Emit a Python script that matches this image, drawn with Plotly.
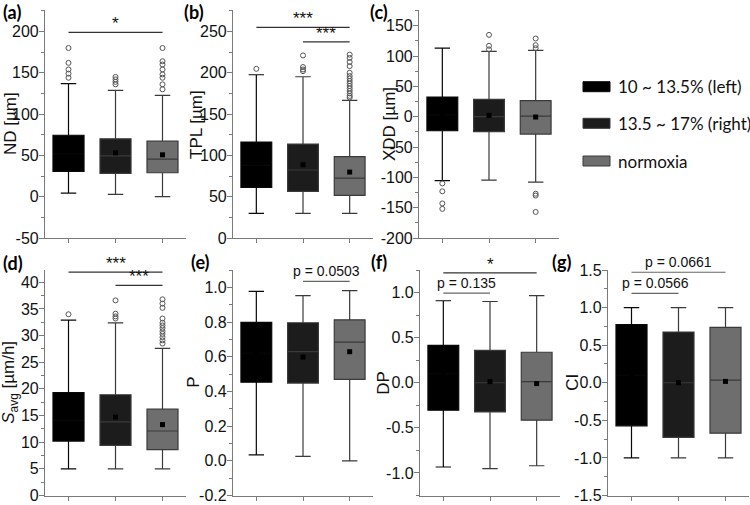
import plotly.graph_objects as go

W, H = 750, 505

groups = ["10 ~ 13.5% (left)", "13.5 ~ 17% (right)", "normoxia"]
positions = [1, 2, 3]

# (a) ND [µm]
ND_lower = [4.4, 2.8, 0.0]
ND_q1 = [30.6, 28.2, 29.0]
ND_median = [52.0, 49.5, 45.5]
ND_q3 = [74.4, 70.0, 67.2]
ND_upper = [136.8, 128.8, 122.7]
ND_mean = [56.0, 53.1, 50.7]
ND_out = [[180, 162, 154, 149, 144],
          [145, 142, 139, 136],
          [180, 164, 160, 154, 148, 144, 136, 130]]

# (b) TPL [µm]
TPL_lower = [29.8, 29.8, 29.8]
TPL_q1 = [61.3, 56.5, 51.6]
TPL_median = [88.0, 82.3, 72.6]
TPL_q3 = [116.1, 113.7, 98.4]
TPL_upper = [197.6, 195.2, 166.5]
TPL_mean = [92.0, 88.7, 79.8]
TPL_out = [[204.8],
           [221, 207, 204, 202],
           [222, 218, 213, 208, 200, 196, 193, 190, 187, 184, 181, 178, 175, 172, 170]]

# (c) XDD [µm]
XDD_lower = [-105.5, -104.4, -107.7]
XDD_q1 = [-23.1, -24.7, -28.6]
XDD_median = [3.0, 0.0, 1.1]
XDD_q3 = [32.4, 28.6, 26.4]
XDD_upper = [113.2, 107.7, 109.3]
XDD_mean = [3.0, 2.2, -0.5]
XDD_out = [[-110, -123, -143, -152],
           [135, 117, 111],
           [129, 118, 113, -127, -130, -157]]

# (d) S_avg [µm/h]
SAVG_lower = [5.0, 5.0, 5.0]
SAVG_q1 = [10.2, 9.4, 8.6]
SAVG_median = [14.1, 13.8, 12.1]
SAVG_q3 = [19.3, 18.9, 16.2]
SAVG_upper = [32.9, 32.4, 27.6]
SAVG_mean = [15.3, 14.7, 13.3]
SAVG_out = [[34.0],
            [36.6, 34.1, 33.6, 33.2],
            [36.8, 36.0, 35.2, 33.2, 32.4, 31.9, 31.4, 30.8, 30.3, 29.7, 29.1, 28.5]]

# (e) P
P_lower = [0.034, 0.025, 0.0]
P_q1 = [0.453, 0.448, 0.469]
P_median = [0.62, 0.629, 0.684]
P_q3 = [0.798, 0.796, 0.813]
P_upper = [0.977, 0.952, 0.981]
P_mean = [0.611, 0.598, 0.629]
P_out = [[], [], []]

# (f) DP
DP_lower = [-0.934, -0.952, -0.92]
DP_q1 = [-0.305, -0.324, -0.415]
DP_median = [0.10, 0.0, 0.013]
DP_q3 = [0.415, 0.36, 0.338]
DP_upper = [0.909, 0.901, 0.967]
DP_mean = [0.08, 0.013, -0.009]
DP_out = [[], [], []]

# (g) CI
CI_lower = [-1.0, -1.0, -1.0]
CI_q1 = [-0.573, -0.728, -0.671]
CI_median = [0.10, 0.0, 0.035]
CI_q3 = [0.772, 0.675, 0.737]
CI_upper = [1.0, 1.0, 1.0]
CI_mean = [0.12, 0.0, 0.018]
CI_out = [[], [], []]

# y-axis tick labels
ND_ticks = [-50, 0, 50, 100, 150, 200]
TPL_ticks = [0, 50, 100, 150, 200, 250]
XDD_ticks = [-200, -150, -100, -50, 0, 50, 100, 150]
SAVG_ticks = [0, 5, 10, 15, 20, 25, 30, 35, 40]
P_ticks = [-0.2, 0.0, 0.2, 0.4, 0.6, 0.8, 1.0]
DP_ticks = [-1.0, -0.5, 0.0, 0.5, 1.0]
CI_ticks = [-1.5, -1.0, -0.5, 0.0, 0.5, 1.0, 1.5]

# significance brackets: (from, to, bar level, label)
ND_sig = [(1, 3, 199.0, "*")]
TPL_sig = [(1, 3, 255.0, "***"), (2, 3, 237.5, "***")]
SAVG_sig = [(1, 3, 41.9, "***"), (2, 3, 39.4, "***")]
P_sig = [(2, 3, 1.034, "p = 0.0503")]
DP_sig = [(1, 3, 1.219, "*"), (1, 2, 0.993, "p = 0.135")]
CI_sig = [(1, 3, 1.47, "p = 0.0661"), (1, 2, 1.19, "p = 0.0566")]

fills = ["#000000", "#1c1c1c", "#6e6e6e"]
lines = ["#080808", "#3a3a3a", "#3a3a3a"]
AX = "#7a7a7a"
FONT = "Liberation Sans, Arial, sans-serif"


def fmt(v, dec):
    return f"{v:.{dec}f}"


TOP = (10, 238)
BOT = (270, 495.5)

panels = [
    dict(lab="(a)", title="ND [µm]", rng=[-50, 226], ticks=ND_ticks, dec=0, minor=25,
         x=(45, 186), y=TOP, stats=(ND_lower, ND_q1, ND_median, ND_q3, ND_upper, ND_mean, ND_out),
         sig=ND_sig, labpos=(1, 12), tx=10),
    dict(lab="(b)", title="TPL [µm]", rng=[0, 276], ticks=TPL_ticks, dec=0, minor=25,
         x=(233, 373), y=TOP, stats=(TPL_lower, TPL_q1, TPL_median, TPL_q3, TPL_upper, TPL_mean, TPL_out),
         sig=TPL_sig, labpos=(182, 12), tx=196),
    dict(lab="(c)", title="XDD [µm]", rng=[-200, 176], ticks=XDD_ticks, dec=0, minor=25,
         x=(419, 559), y=TOP, stats=(XDD_lower, XDD_q1, XDD_median, XDD_q3, XDD_upper, XDD_mean, XDD_out),
         sig=[], labpos=(368, 12), tx=389),
    dict(lab="(d)", title="<i>S</i><sub>avg</sub> [µm/h]", rng=[0, 42.3], ticks=SAVG_ticks, dec=0, minor=2.5,
         x=(45, 186), y=BOT, stats=(SAVG_lower, SAVG_q1, SAVG_median, SAVG_q3, SAVG_upper, SAVG_mean, SAVG_out),
         sig=SAVG_sig, labpos=(1, 263), tx=10),
    dict(lab="(e)", title="P", rng=[-0.2, 1.1], ticks=P_ticks, dec=1, minor=0.1,
         x=(233, 373), y=BOT, stats=(P_lower, P_q1, P_median, P_q3, P_upper, P_mean, P_out),
         sig=P_sig, labpos=(189, 262), tx=194),
    dict(lab="(f)", title="DP", rng=[-1.25, 1.25], ticks=DP_ticks, dec=1, minor=0.25,
         x=(420, 560), y=BOT, stats=(DP_lower, DP_q1, DP_median, DP_q3, DP_upper, DP_mean, DP_out),
         sig=DP_sig, labpos=(369, 262), tx=384),
    dict(lab="(g)", title="CI", rng=[-1.5, 1.5], ticks=CI_ticks, dec=1, minor=0.25,
         x=(608, 749), y=BOT, stats=(CI_lower, CI_q1, CI_median, CI_q3, CI_upper, CI_mean, CI_out),
         sig=CI_sig, labpos=(550, 262), tx=573),
]

fig = go.Figure()
shapes = []
annotations = []
layout = dict(width=W, height=H, margin=dict(l=0, r=0, t=0, b=0, autoexpand=False),
              paper_bgcolor="white", plot_bgcolor="white", showlegend=False,
              font=dict(family=FONT, size=16, color="#111"))

for i, p in enumerate(panels):
    n = "" if i == 0 else str(i + 1)
    xa, ya = "x" + n, "y" + n
    lower, q1, med, q3, upper, mean, outs = p["stats"]
    for g in range(3):
        fig.add_trace(go.Box(
            x=[positions[g]], q1=[q1[g]], median=[med[g]], q3=[q3[g]],
            lowerfence=[lower[g]], upperfence=[upper[g]],
            width=0.66, whiskerwidth=0.5, fillcolor=fills[g],
            line=dict(color=lines[g], width=1.2), boxpoints=False,
            name=groups[g], xaxis=xa, yaxis=ya, hoverinfo="skip"))
        if outs[g]:
            fig.add_trace(go.Scatter(
                x=[positions[g]] * len(outs[g]), y=outs[g], mode="markers",
                marker=dict(symbol="circle-open", size=5, color="#555", line=dict(width=1)),
                xaxis=xa, yaxis=ya, hoverinfo="skip"))
    fig.add_trace(go.Scatter(
        x=positions, y=mean, mode="markers",
        marker=dict(symbol="square", size=5, color="#000"),
        xaxis=xa, yaxis=ya, hoverinfo="skip", cliponaxis=False))

    x0, x1 = p["x"]
    top, bot = p["y"]
    layout["xaxis" + n] = dict(
        domain=[x0 / W, x1 / W], anchor=ya, range=[0.5, 3.5],
        showline=True, linecolor=AX, linewidth=1.2, ticks="outside", ticklen=4,
        tickcolor=AX, tickvals=positions, showticklabels=False,
        showgrid=False, zeroline=False, fixedrange=True)
    layout["yaxis" + n] = dict(
        domain=[1 - bot / H, 1 - top / H], anchor=xa, range=p["rng"],
        showline=True, linecolor=AX, linewidth=1.2, ticks="outside", ticklen=5,
        tickcolor=AX, tickvals=p["ticks"], ticktext=[fmt(v, p["dec"]) for v in p["ticks"]],
        minor=dict(ticks="outside", ticklen=3, tickcolor=AX, dtick=p["minor"],
                   tick0=p["ticks"][0], showgrid=False),
        showgrid=False, zeroline=False, automargin=False, ticklabeloverflow="allow",
        ticklabelstandoff=-3,
        tickfont=dict(size=16, color="#111", family=FONT),
        fixedrange=True)

    # axis title as rotated text
    annotations.append(dict(text=p["title"], xref="paper", yref="paper",
                            x=p["tx"] / W, y=1 - (top + bot) / 2 / H,
                            xanchor="center", yanchor="middle", textangle=-90,
                            showarrow=False, font=dict(size=17, color="#111", family=FONT)))

    r0, r1 = p["rng"]
    for (a, b, lev, txt) in p["sig"]:
        fa = (a - 0.5) / 3
        fb = (b - 0.5) / 3
        fy = (lev - r0) / (r1 - r0)
        star = txt.startswith("*")
        shapes.append(dict(type="line", xref=xa + " domain", yref=ya + " domain",
                           x0=fa, x1=fb, y0=fy, y1=fy,
                           line=dict(color="#333" if star else "#666", width=1.2)))
        annotations.append(dict(text=txt, xref=xa + " domain", yref=ya + " domain",
                                x=(fa + fb) / 2, y=fy, xanchor="center", yanchor="bottom",
                                yshift=-3 if star else 0, showarrow=False,
                                font=dict(size=17 if star else 14, color="#111", family=FONT)))

    lx, ly = p["labpos"]
    annotations.append(dict(text="<b>" + p["lab"] + "</b>", xref="paper", yref="paper",
                            x=lx / W, y=1 - ly / H, xanchor="left", yanchor="middle",
                            showarrow=False,
                            font=dict(size=18, color="#000", family="Lato, Open Sans")))

# legend
leg_rows = [86.7, 123.3, 161.0]
for g in range(3):
    yc = leg_rows[g]
    shapes.append(dict(type="rect", xref="paper", yref="paper",
                       x0=583 / W, x1=610 / W, y0=1 - (yc + 5) / H, y1=1 - (yc - 5) / H,
                       fillcolor=fills[g], line=dict(color=lines[g], width=1)))
    annotations.append(dict(text=groups[g], xref="paper", yref="paper",
                            x=616 / W, y=1 - yc / H, xanchor="left", yanchor="middle",
                            showarrow=False,
                            font=dict(size=17, color="#111", family="Lato, Open Sans")))

layout["shapes"] = shapes
layout["annotations"] = annotations
fig.update_layout(**layout)
fig.write_html("out.html",
               config={"displayModeBar": False},
               post_script="document.body.style.margin='0';document.body.style.padding='0';")
